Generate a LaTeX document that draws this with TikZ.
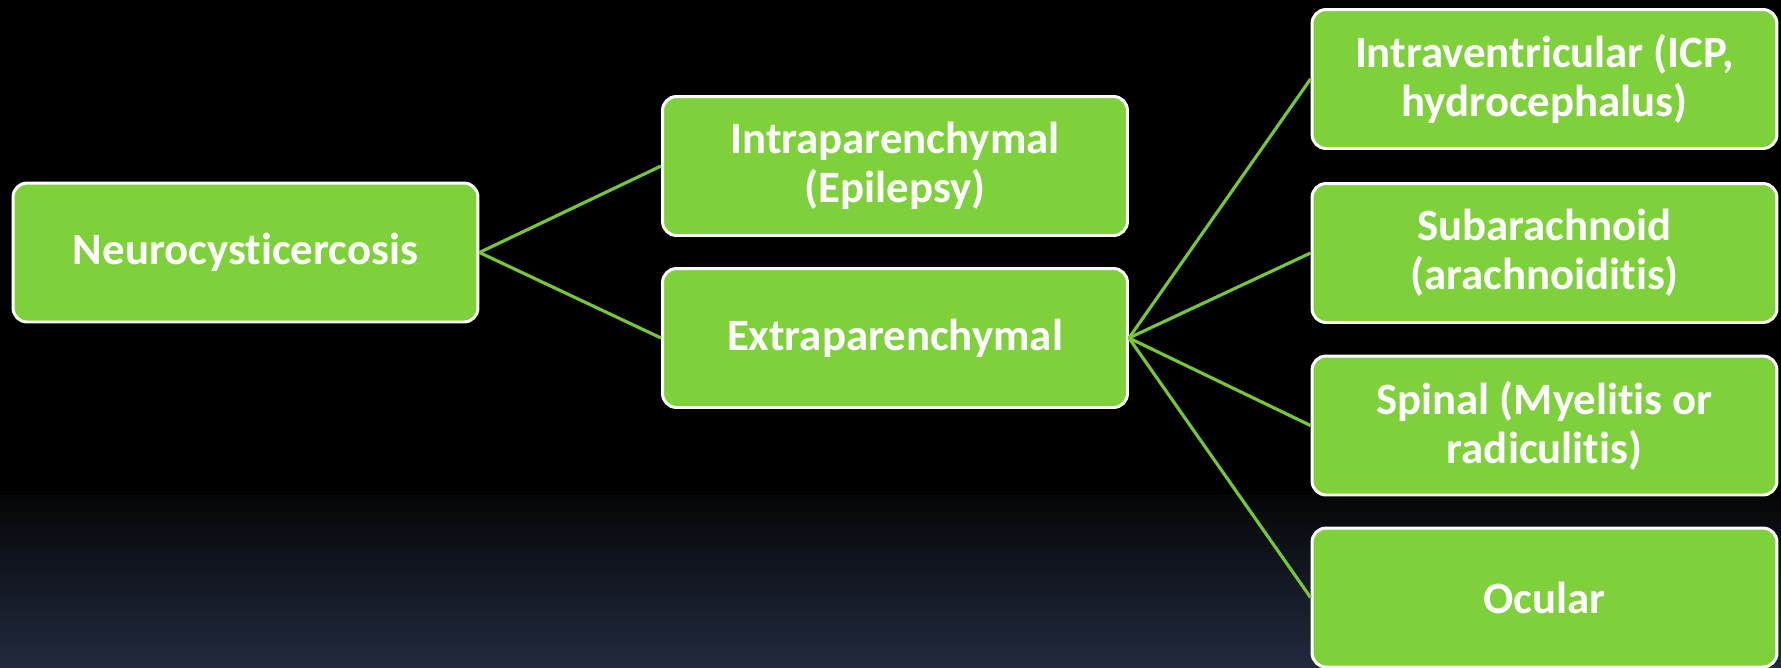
\documentclass[tikz,border=0pt]{standalone}
\usepackage{fontspec}
\setmainfont[Ligatures=NoCommon]{Carlito}
\usepackage{tikz}
\usetikzlibrary{positioning}

\definecolor{boxgreen}{HTML}{7FD13B}
\definecolor{linegreen}{HTML}{76C63A}
\definecolor{bgnavy}{HTML}{212A3D}
\definecolor{bgdark}{HTML}{050608}

\begin{document}
\begin{tikzpicture}[x=0.02cm,y=-0.02cm,
    greenbox/.style={draw=white,line width=1.7pt,fill=boxgreen,
      rounded corners=0.28cm,minimum width=9.3cm,minimum height=2.78cm,
      align=center,text=white,inner sep=0pt,
      font=\fontsize{25.5}{28}\selectfont\bfseries},
    link/.style={draw=linegreen,line width=1.8pt}]

    \fill[black] (0,0) rectangle (1781,495);
    \shade[top color=bgdark,bottom color=bgnavy] (0,495) rectangle (1781,667);
    \useasboundingbox (0,0) rectangle (1781,667);

    \node[greenbox] (neuro) at (245.5,252.5) {Neurocysticercosis};

    \node[greenbox] (intrapar) at (895,166) {Intraparenchymal\\(Epilepsy)};
    \node[greenbox] (extrapar) at (895,338) {Extraparenchymal};

    \node[greenbox] (ventric) at (1544.5,79) {Intraventricular (ICP,\\hydrocephalus)};
    \node[greenbox] (subarach) at (1544.5,253) {Subarachnoid\\(arachnoiditis)};
    \node[greenbox] (spinal) at (1544.5,425.5) {Spinal (Myelitis or\\radiculitis)};
    \node[greenbox] (ocular) at (1544.5,597.5) {Ocular};

    \draw[link] (neuro.east) -- (intrapar.west);
    \draw[link] (neuro.east) -- (extrapar.west);

    \draw[link] (extrapar.east) -- (ventric.west);
    \draw[link] (extrapar.east) -- (subarach.west);
    \draw[link] (extrapar.east) -- (spinal.west);
    \draw[link] (extrapar.east) -- (ocular.west);

  \end{tikzpicture}
\end{document}
